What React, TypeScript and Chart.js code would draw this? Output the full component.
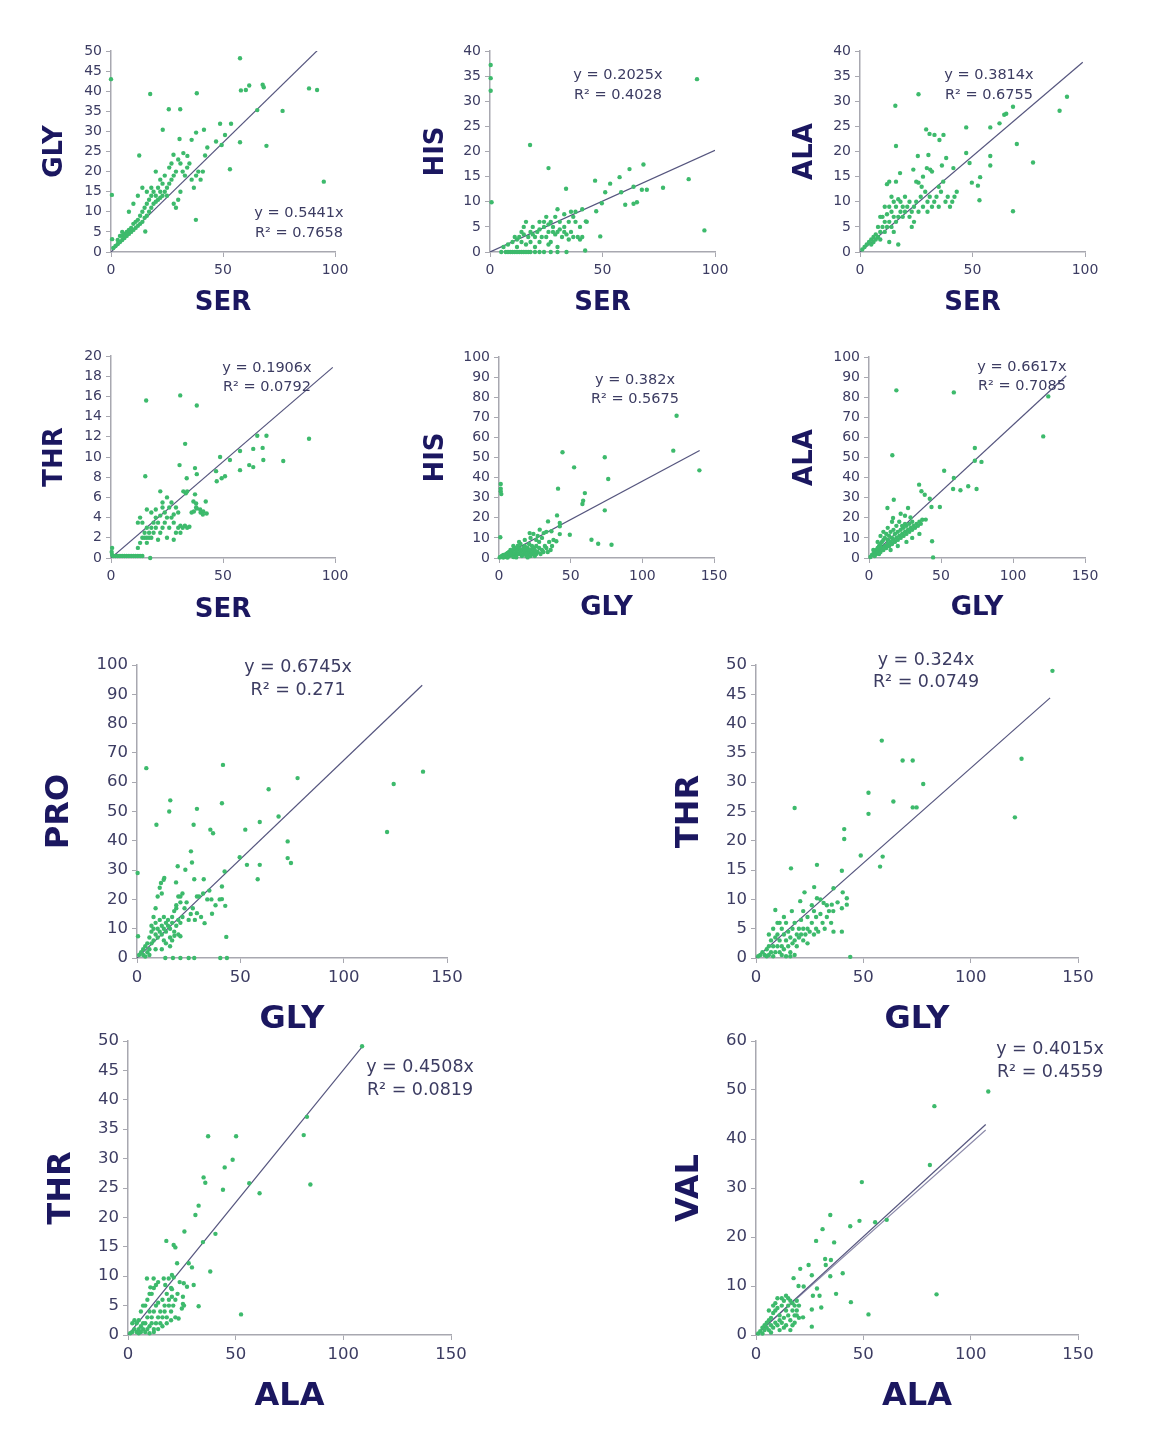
import React, { useEffect, useRef } from "react";
import { Chart, registerables } from "chart.js";
Chart.register(...registerables);

type Pt = [number, number];

// ---------- DATA ----------
const glyVsSer: Pt[] = [
  [0, 43], [0.4, 14.2], [0.5, 3.2], [57.6, 48.2], [17.5, 39.3], [38.3, 39.5], [58, 40.2], [60.2, 40.3], [61.7, 41.4],
  [67.7, 41.6], [68.2, 41], [88.4, 40.7], [92, 40.3], [25.8, 35.5], [30.9, 35.5], [65.3, 35.3], [76.6, 35.1],
  [23.1, 30.4], [41.5, 30.4], [48.7, 31.9], [53.6, 31.9], [30.6, 28.1], [36, 27.9], [38, 29.7], [57.6, 27.3],
  [69.4, 26.4], [12.6, 24], [27.9, 24.2], [32.3, 24.6], [34.1, 23.9], [46.9, 27.5], [49.4, 26.6], [50.9, 29.1],
  [53.1, 20.6], [95, 17.5], [37.9, 8], [15.3, 5.1],
  [1, 1], [2, 1.5], [3, 2], [4, 2.5], [5, 3], [5, 4], [6, 3.5], [6, 4.5], [7, 4], [7, 5], [8, 4.5], [8, 5.5], [9, 5],
  [9, 6], [10, 5.5], [10, 7], [11, 6], [11, 7.5], [12, 6.5], [12, 8], [13, 7], [13, 9], [14, 7.5], [14, 10], [15, 8.5],
  [15, 11], [16, 9], [16, 12], [17, 10], [17, 13], [18, 11], [18, 14], [19, 12], [19, 15], [20, 12.5], [20, 14],
  [21, 13], [21, 16], [22, 13.5], [22, 15], [23, 14], [23, 17], [24, 15], [24, 19], [25, 14], [25, 16], [26, 17],
  [26, 21], [27, 18], [27, 22], [28, 12], [28, 19], [29, 11], [29, 20], [30, 13], [30, 23], [31, 15], [31, 22],
  [32, 20], [33, 19], [34, 21], [35, 22], [36, 18], [37, 16], [38, 19], [39, 20], [40, 18], [41, 20], [42, 24],
  [43, 26], [10, 12], [8, 10], [12, 14], [14, 16], [18, 16], [5, 5], [3, 3], [4, 4], [20, 20], [22, 18], [16, 15],
];

const hisVsSer: Pt[] = [
  [0.3, 37.2], [0.3, 34.6], [0.3, 32.1], [0.7, 9.9], [17.8, 21.3], [26, 16.7], [92, 34.4], [95.3, 4.3], [88.3, 14.5],
  [76.9, 12.8], [68.2, 17.4], [62, 16.5], [53.4, 13.6], [57.6, 14.9], [46.7, 14.2], [33.8, 12.6], [58.3, 11.9],
  [60.1, 9.4], [63.8, 9.6], [65.3, 9.9], [67.5, 12.4], [69.7, 12.4], [63.8, 13], [51.2, 11.9], [49.7, 9.7],
  [47.2, 8.1], [49, 3.1], [42.6, 6.1], [42.3, 0.3],
  [5, 0], [7, 0], [8, 0], [9, 0], [10, 0], [11, 0], [12, 0], [13, 0], [14, 0], [15, 0], [16, 0], [17, 0], [18, 0],
  [20, 0], [22, 0], [24, 0], [27, 0], [30, 0], [6, 1], [8, 1.5], [10, 2], [11, 3], [12, 2.5], [13, 3], [14, 2],
  [15, 3.5], [15, 5], [16, 6], [17, 3], [18, 4], [18, 2], [19, 5], [20, 1], [20, 3], [21, 4], [22, 2], [22, 6],
  [23, 3], [24, 5], [24, 6], [25, 3], [25, 7], [26, 4], [26, 5.5], [27, 2], [27, 6], [28, 4], [28, 5], [29, 3.5],
  [29, 7], [30, 4], [30, 8.5], [31, 4.5], [31, 6], [32, 3], [33, 4], [33, 5], [34, 3.5], [35, 2.5], [35, 6],
  [36, 4], [37, 7], [37, 3], [38, 6], [38, 8], [39, 3], [40, 2.5], [40, 5], [41, 3], [41, 8.5], [43, 6], [36, 8],
  [30, 1], [34, 0], [22, 4.5], [19, 3.5], [16, 1.5], [14, 4], [12, 1], [26, 1.5], [33, 7.5],
];

const alaVsSer: Pt[] = [
  [15.7, 29.1], [26, 31.4], [16, 21.1], [92, 30.9], [88.7, 28.1], [68, 28.9], [64.1, 27.3], [65, 27.5], [62, 25.6],
  [57.9, 24.8], [47.2, 24.8], [69.7, 21.5], [57.9, 19.1], [57.9, 17.2], [76.9, 17.8], [68, 8.1], [53.1, 10.3],
  [52.4, 13.2], [53.4, 14.9], [49.7, 13.8], [47.2, 19.7], [48.7, 17.7], [29.4, 24.4], [30.9, 23.5], [33.1, 23.3],
  [35.3, 22.3], [37.1, 23.3], [25.7, 19.1], [30.4, 19.3], [38.3, 18.7], [36.4, 17.2], [41.5, 16.7], [29.7, 16.7],
  [31.2, 16.4], [23.7, 16.4], [17.8, 15.7], [26, 13.8], [27.4, 13],
  [1, 0.5], [2, 1], [3, 1.5], [4, 2], [5, 1.5], [5, 2.5], [6, 2], [6, 3], [7, 2.5], [7, 3.5], [8, 3], [8, 5], [9, 2.5],
  [9, 4], [10, 5], [10, 7], [11, 4], [11, 6], [12, 5], [12, 7.5], [13, 6], [13, 9], [14, 5], [14, 8], [15, 7],
  [15, 10], [16, 6], [16, 9], [17, 7], [17, 10.5], [18, 8], [18, 10], [19, 7], [19, 9], [20, 8], [20, 11], [21, 9],
  [22, 7], [22, 10], [23, 8], [23, 5], [24, 9], [24, 6], [25, 10], [26, 8], [27, 11], [28, 9], [29, 12], [30, 8],
  [30, 10], [31, 11], [32, 9], [33, 10], [34, 11], [35, 9], [36, 12], [37, 14], [38, 10], [39, 11], [40, 9],
  [41, 10], [42, 11], [43, 12], [12, 13.5], [13, 14], [16, 14], [14, 11], [9, 7], [11, 9], [17, 1.5], [13, 2],
  [15, 4], [25, 14], [28, 15], [32, 16], [35, 13],
];

const thrVsSer: Pt[] = [
  [15.7, 15.6], [30.9, 16.1], [38.3, 15.1], [15.3, 8.1], [33.1, 11.3], [88.4, 11.8], [65.3, 12.1], [69.4, 12.1],
  [67.7, 10.9], [63.5, 10.8], [57.6, 10.6], [68, 9.7], [76.9, 9.6], [48.7, 10], [53.1, 9.7], [57.6, 8.7],
  [61.7, 9.2], [63.5, 9], [46.9, 8.6], [47.2, 7.6], [49.4, 7.9], [50.9, 8.1], [30.6, 9.2], [37.5, 8.9], [38.3, 8.3],
  [33.8, 7.9], [22, 6.6], [32.3, 6.6], [33.4, 6.4], [37.5, 6.3], [36.8, 5.6], [42.3, 5.6], [38.3, 4.9], [39.8, 4.8],
  [41.2, 4.6], [42.7, 4.4], [17.5, 0],
  [0.5, 0.3], [1, 0.2], [2, 0.2], [3, 0.2], [4, 0.2], [5, 0.2], [6, 0.2], [7, 0.2], [8, 0.2], [9, 0.2], [10, 0.2],
  [11, 0.2], [12, 0.2], [13, 0.2], [14, 0.2], [0.3, 0.6], [0.5, 1],
  [12, 1], [13, 1.5], [14, 2], [14, 3.5], [15, 2], [15, 2.5], [16, 1.5], [16, 2], [16, 3], [17, 2], [17, 2.5], [18, 2],
  [18, 3], [18, 4.5], [19, 2.5], [19, 3.5], [20, 3], [20, 4], [21, 1.8], [21, 3.5], [22, 2.5], [22, 4.2], [23, 3],
  [23, 5], [24, 3.5], [24, 4.5], [25, 2], [25, 4], [26, 3], [26, 5], [27, 4], [27, 5.5], [28, 1.8], [28, 3.5],
  [29, 2.5], [29, 5], [30, 3], [30, 4.5], [31, 3.2], [32, 3], [33, 3.2], [34, 3], [35, 3.1], [36, 4.5], [37, 4.6],
  [38, 5], [12, 3.5], [13, 4], [16, 4.8], [20, 4.8], [23, 5.5], [25, 6], [28, 4.3], [31, 2.5], [34, 6.6], [38, 5.4],
  [40, 4.5], [41, 4.3],
];

const hisVsGly: Pt[] = [
  [123.9, 70.8], [121.6, 53.4], [139.8, 43.6], [44.3, 52.6], [52.4, 45.1], [73.8, 50.1], [76.2, 39.3], [73.8, 23.7],
  [59.9, 32.3], [58.7, 28.5], [58.2, 26.9], [41.2, 34.5], [40.5, 21.2], [49.4, 11.6], [64.5, 9.1], [69.2, 7.1],
  [78.5, 6.6], [1.2, 36.8], [1.2, 34.5], [1.2, 33.2], [1.6, 31.8], [0.9, 10.3], [42.4, 17.4], [42.4, 15.8],
  [42.4, 11.9], [40, 8.3], [36.6, 13.3], [34.2, 18.2], [31.2, 12.4], [28.4, 14.1], [21.4, 12.4],
  [1, 0.5], [2, 1], [3, 1.5], [4, 1], [5, 2], [5, 0.5], [6, 2.5], [7, 1], [7, 3], [8, 2], [8, 4], [9, 1.5], [9, 3],
  [10, 0.5], [10, 4], [11, 2], [11, 5], [12, 1], [12, 3], [13, 4], [13, 6], [14, 2], [14, 5], [15, 3], [15, 7],
  [16, 1], [16, 4], [17, 5], [17, 2], [18, 3], [18, 6], [19, 1], [19, 4], [20, 2], [20, 5], [21, 3], [21, 7], [22, 1],
  [22, 4], [23, 6], [23, 2], [24, 3], [24, 5], [25, 1], [25, 4], [26, 2], [26, 6], [27, 3], [28, 5], [28, 8], [29, 2],
  [30, 4], [30, 10], [31, 3], [32, 6], [33, 5], [34, 3], [35, 8], [36, 4], [37, 6], [38, 9], [26, 9], [22, 10],
  [18, 9], [14, 8], [10, 6], [0.5, 0.3], [3, 0.2], [6, 0.2], [12, 0.3], [20, 0.3], [27, 11], [24, 12], [33, 13],
];

const alaVsGly: Pt[] = [
  [19, 83.4], [58.9, 82.4], [124.5, 80.4], [121, 60.5], [16.2, 51.1], [73.5, 54.7], [73.5, 48.4], [78.1, 47.8],
  [52.2, 43.4], [58.9, 39.8], [58.4, 34.3], [63.5, 33.7], [68.9, 35.7], [74.7, 34.3], [34.8, 36.5], [42.2, 29.5],
  [43.4, 25.4], [49.2, 25.4], [43.8, 8.3], [44.5, 0.3], [17.2, 29], [12.8, 24.9], [16.7, 19.9], [27.1, 24.9],
  [28.8, 20.2], [36.4, 33.2], [38.7, 31.5], [39.4, 19.1],
  [1, 0.5], [2, 1.5], [3, 2], [4, 3], [5, 2], [5, 4], [6, 3], [6, 5], [7, 4], [7, 6], [8, 3], [8, 7], [9, 5], [9, 8],
  [10, 4], [10, 9], [11, 6], [11, 10], [12, 5], [12, 12], [13, 7], [13, 9], [14, 6], [14, 11], [15, 8], [15, 13],
  [16, 7], [16, 10], [17, 9], [17, 14], [18, 8], [18, 12], [19, 10], [19, 16], [20, 9], [20, 13], [21, 11], [21, 18],
  [22, 10], [22, 14], [23, 12], [23, 16], [24, 11], [24, 15], [25, 13], [25, 17], [26, 12], [26, 16], [27, 14],
  [28, 13], [28, 17], [29, 15], [30, 14], [30, 18], [31, 16], [32, 15], [33, 17], [34, 16], [35, 18], [36, 17],
  [37, 19], [8, 11], [10, 13], [13, 15], [6, 8], [16, 18], [22, 22], [25, 21], [3, 4], [4, 1], [7, 2], [20, 6],
  [15, 4], [26, 8], [30, 10], [35, 12],
];

const proVsGly: Pt[] = [
  [4.5, 64.8], [41.6, 65.9], [138.4, 63.6], [124.2, 59.4], [121, 43], [77.7, 61.4], [63.7, 57.6], [68.5, 48.3],
  [59.4, 46.4], [52.4, 43.8], [72.9, 39.8], [72.9, 34.1], [74.5, 32.4], [49.7, 34.4], [53.2, 31.8], [59.4, 31.8],
  [58.4, 26.9], [41.1, 52.8], [29, 50.9], [16.1, 53.8], [15.6, 50], [9.4, 45.5], [27.4, 45.5], [35.5, 43.8],
  [36.8, 42.6], [26.1, 36.4], [42.4, 29.5], [0.3, 29], [0.5, 7.4], [43.2, 7.2], [41.1, 24.4], [41.1, 20.1],
  [42.7, 17.8], [36.3, 15.1], [29, 15.3], [32.7, 11.9], [32.3, 26.9], [27.7, 26.9], [23.4, 30.1], [19.7, 31.3],
  [26.6, 32.6], [18.9, 25.8], [12.9, 26.7], [11.6, 25.6], [13.2, 27.3], [18.1, 7.6], [21, 7.4],
  [13.7, 0], [17.4, 0], [21, 0], [25, 0], [27.7, 0], [40.3, 0], [43.5, 0],
  [1, 1], [2, 2], [3, 1], [3, 3], [4, 4], [5, 2], [5, 5], [6, 3], [6, 7], [7, 5], [7, 9], [8, 6], [8, 10], [9, 8],
  [9, 12], [10, 7], [10, 10], [11, 9], [11, 13], [12, 8], [12, 11], [13, 10], [13, 14], [14, 9], [14, 12], [15, 11],
  [15, 13], [16, 10], [16, 7], [17, 12], [17, 14], [18, 9], [18, 16], [19, 11], [19, 18], [20, 13], [20, 21],
  [21, 12], [21, 19], [22, 14], [22, 22], [23, 17], [24, 19], [25, 13], [26, 15], [27, 17], [28, 13], [29, 21],
  [30, 21], [31, 14], [32, 22], [34, 20], [35, 23], [36, 20], [38, 18], [40, 20], [8, 14], [9, 17], [10, 21],
  [11, 24], [12, 22], [7, 11], [14, 5], [16, 4], [17, 6], [13, 6], [20, 8], [6, 1], [9, 3], [4, 0.5], [12, 3],
  [19, 17], [21, 21],
];

const thrVsGly: Pt[] = [
  [138.1, 49], [58.6, 37.1], [68.3, 33.7], [73, 33.7], [123.7, 34], [77.9, 29.7], [52.4, 28.2], [52.4, 24.6],
  [64, 26.7], [73, 25.7], [74.8, 25.7], [120.6, 24], [18, 25.6], [41.1, 22], [41.1, 20.3], [48.8, 17.5],
  [59, 17.3], [57.8, 15.6], [40, 14.9], [28.4, 15.9], [16.3, 15.3], [36.1, 11.9], [27.1, 12.1], [22.6, 11.2],
  [40.4, 11.2], [42.3, 10.2], [42.3, 9.1], [36.1, 4.5], [40, 4.5], [43.9, 0.2], [9, 8.2], [16.7, 8], [20.6, 9.7],
  [28.4, 10.2], [31.5, 9.4], [35.3, 9.1],
  [1, 0.3], [2, 0.5], [3, 1], [4, 0.5], [5, 1.5], [5, 0.3], [6, 2], [6, 0.5], [7, 1], [7, 3], [8, 2], [8, 0.3], [9, 1],
  [9, 3.5], [10, 2], [10, 4], [11, 1], [11, 3], [12, 2], [12, 5], [13, 1.5], [13, 4], [14, 3], [14, 6], [15, 2],
  [15, 4.5], [16, 1], [16, 3.5], [17, 2.5], [17, 5], [18, 3], [18, 6], [19, 2], [19, 4], [20, 3.5], [20, 5], [21, 4],
  [21, 6.5], [22, 3], [22, 5], [23, 4], [24, 2.5], [24, 5], [25, 4.5], [26, 6], [27, 4], [27, 8], [28, 5], [28, 7],
  [29, 4.5], [30, 7.5], [31, 6], [32, 5], [33, 7], [34, 8], [35, 6], [12, 0.5], [14, 0.3], [16, 0.3], [18, 0.5],
  [10, 6], [11, 6], [13, 7], [6, 4], [8, 5], [22, 8], [24, 7], [26, 9], [30, 10], [33, 9], [36, 8], [38, 9.5],
  [40, 8.5],
];

const thrVsAla: Pt[] = [
  [108.7, 49.1], [83.1, 37.1], [81.6, 34], [84.7, 25.6], [37.2, 33.8], [50.2, 33.8], [48.6, 29.8], [44.9, 28.5],
  [35.1, 26.8], [35.9, 25.9], [44.1, 24.7], [56.3, 25.8], [61.1, 24.1], [32.8, 22], [31.3, 20.4], [26.2, 17.6],
  [40.6, 17.2], [34.8, 15.8], [17.8, 16], [21.2, 15.3], [22, 14.9], [38.2, 10.8], [52.5, 3.5], [32.8, 4.9],
  [23.5, 2.8], [22.8, 12.2], [28.2, 12.2], [29.7, 11.5], [30.5, 8.5], [25.9, 8.8], [27.4, 8.2], [25.5, 6.5],
  [25.5, 5.3], [20.4, 7.8], [20.4, 6.5], [8.8, 9.6], [11.9, 9.6], [10.4, 8.1], [16.6, 9.6], [18.9, 9.6],
  [21.2, 9.8], [17.3, 8.5], [20.4, 10.2],
  [1, 0.3], [2, 0.5], [3, 1], [4, 0.5], [4, 2], [5, 1], [5, 2.5], [6, 0.5], [6, 1.5], [7, 1], [7, 2], [8, 0.5], [8, 2],
  [9, 1], [9, 3], [10, 1.5], [10, 4], [11, 2], [11, 3], [12, 1], [12, 4], [13, 2], [13, 5], [14, 3], [14, 5.5],
  [15, 2], [15, 4], [16, 3], [16, 6], [17, 4], [17, 5], [18, 3], [18, 7], [19, 5], [19, 6], [20, 4], [20, 8], [21, 5],
  [22, 6], [23, 7], [24, 9], [8, 5], [9, 6], [10, 7], [11, 7], [12, 8], [13, 8.5], [14, 9], [3, 2.5], [2, 2], [6, 4],
  [7, 5], [5, 0.3], [10, 0.3], [12, 0.5], [14, 1], [16, 1.5], [18, 2], [20, 2.5], [22, 3], [25, 4.5], [26, 5],
];

const valVsAla: Pt[] = [
  [108.2, 49.7], [83.1, 46.7], [81, 34.7], [84.1, 8.3], [49.3, 31.2], [34.6, 24.5], [43.9, 22.2], [48.2, 23.3],
  [55.5, 23], [60.9, 23.5], [31, 21.6], [28, 19.2], [36.4, 18.9], [32.2, 15.5], [34.9, 15.3], [32.5, 14.3],
  [34.6, 12], [40.4, 12.6], [37.3, 8.4], [44.2, 6.7], [52.4, 4.2], [30.4, 5.6], [26, 5.2], [26, 1.7], [24.5, 14.3],
  [20.6, 13.5], [26, 12.2], [17.5, 11.6], [19.8, 10], [22.2, 9.9], [28.4, 9.5], [26.5, 8], [29.6, 8], [21.9, 3.6],
  [1, 0.3], [2, 0.8], [3, 1.5], [3, 0.3], [4, 1], [4, 2], [5, 1.5], [5, 2.5], [6, 1], [6, 3], [7, 2], [7, 3.5],
  [8, 1.5], [8, 4.5], [9, 2.5], [9, 5], [10, 2], [10, 5.5], [11, 3], [11, 4], [12, 2.5], [12, 6], [13, 3.5], [13, 7],
  [14, 2], [14, 5], [15, 4], [15, 6], [16, 3], [16, 7], [17, 5], [17, 2], [18, 6], [18, 4], [19, 5], [19, 7], [20, 6],
  [10, 7.5], [12, 7.5], [9, 6.5], [14, 8], [11, 1], [13, 1.5], [16, 1], [18, 2.5], [20, 3.5], [6, 5], [8, 6],
  [15, 7.5], [17, 6.5], [19, 4], [7, 0.5],
];

// trendline slopes (from the printed equations) and where each trendline ends on x
const trendSlopes = [0.5441, 0.2025, 0.3814, 0.1906, 0.382, 0.6617, 0.6745, 0.324, 0.4508, 0.4015];
const trendEndX = [95, 100, 99, 99, 140, 137, 138, 137, 109, 107];
const valSecondSlope = 0.391;
const eqLabels = ["y = 0.5441x", "y = 0.2025x", "y = 0.3814x", "y = 0.1906x", "y = 0.382x", "y = 0.6617x", "y = 0.6745x", "y = 0.324x", "y = 0.4508x", "y = 0.4015x"];
const r2Labels = ["R² = 0.7658", "R² = 0.4028", "R² = 0.6755", "R² = 0.0792", "R² = 0.5675", "R² = 0.7085", "R² = 0.271", "R² = 0.0749", "R² = 0.0819", "R² = 0.4559"];
const xNames = ["SER", "SER", "SER", "SER", "GLY", "GLY", "GLY", "GLY", "ALA", "ALA"];
const yNames = ["GLY", "HIS", "ALA", "THR", "HIS", "ALA", "PRO", "THR", "THR", "VAL"];
const xMaxes = [100, 100, 100, 100, 150, 150, 150, 150, 150, 150];
const yMaxes = [50, 40, 40, 20, 100, 100, 100, 50, 50, 60];
const yStepsList = [5, 5, 5, 2, 10, 10, 10, 5, 5, 10];
const pointSets = [glyVsSer, hisVsSer, alaVsSer, thrVsSer, hisVsGly, alaVsGly, proVsGly, thrVsGly, thrVsAla, valVsAla];

// ---------- LAYOUT ----------
type Layout = {
  left: number; top: number; w: number; h: number; big: boolean;
  ytDx: number; xtDy: number; eqDx: number; eqDy1: number; eqDy2: number;
};
const layouts: Layout[] = [
  { left: 111, top: 51, w: 224, h: 201, big: false, ytDx: 56, xtDy: 51, eqDx: 188, eqDy1: 162, eqDy2: 182 },
  { left: 490, top: 51, w: 225, h: 201, big: false, ytDx: 54, xtDy: 51, eqDx: 128, eqDy1: 24, eqDy2: 44 },
  { left: 860, top: 51, w: 225, h: 201, big: false, ytDx: 55, xtDy: 51, eqDx: 129, eqDy1: 24, eqDy2: 44 },
  { left: 111, top: 356, w: 224, h: 202, big: false, ytDx: 56, xtDy: 52, eqDx: 156, eqDy1: 12, eqDy2: 31 },
  { left: 499, top: 357, w: 215, h: 201, big: false, ytDx: 63, xtDy: 50, eqDx: 136, eqDy1: 23, eqDy2: 42 },
  { left: 869, top: 357, w: 216, h: 201, big: false, ytDx: 64, xtDy: 50, eqDx: 153, eqDy1: 10, eqDy2: 29 },
  { left: 137, top: 665, w: 310, h: 293, big: true, ytDx: 77, xtDy: 62, eqDx: 161, eqDy1: 2, eqDy2: 25 },
  { left: 756, top: 665, w: 322, h: 293, big: true, ytDx: 66, xtDy: 62, eqDx: 170, eqDy1: -5, eqDy2: 17 },
  { left: 128, top: 1041, w: 323, h: 294, big: true, ytDx: 66, xtDy: 62, eqDx: 292, eqDy1: 26, eqDy2: 49 },
  { left: 756, top: 1041, w: 322, h: 294, big: true, ytDx: 66, xtDy: 62, eqDx: 294, eqDy1: 8, eqDy2: 31 },
];

const M_LEFT = 100, M_TOP = 25, M_RIGHT = 40, M_BOTTOM = 85;
const FONT = "'DejaVu Sans', Verdana, sans-serif";
const TICK_COLOR = "#3c3c62";
const TITLE_COLOR = "#1b1760";
const AXIS_COLOR = "#a8a8b0";
const POINT_COLOR = "#3dba6c";
const LINE_COLOR = "#55557e";

function Panel({ idx }: { idx: number }) {
  const ref = useRef<HTMLCanvasElement | null>(null);
  const L = layouts[idx];
  const cw = L.w + M_LEFT + M_RIGHT;
  const ch = L.h + M_TOP + M_BOTTOM;

  useEffect(() => {
    if (!ref.current) return;
    const tickSize = L.big ? 16.5 : 14;
    const titleSize = L.big ? 32 : 26;
    const eqSize = L.big ? 17.5 : 14.5;
    const slope = trendSlopes[idx];
    const endX = trendEndX[idx];
    const datasets: any[] = [
      {
        type: "scatter",
        data: pointSets[idx].map(([x, y]) => ({ x, y })),
        pointRadius: 2.2,
        pointBorderWidth: 0,
        backgroundColor: POINT_COLOR,
        clip: 6,
      },
      {
        type: "line",
        data: [{ x: 0, y: 0 }, { x: endX, y: slope * endX }],
        borderColor: LINE_COLOR,
        borderWidth: 1.2,
        pointRadius: 0,
        fill: false,
        clip: 0,
      },
    ];
    if (idx === 9) {
      datasets.push({
        type: "line",
        data: [{ x: 0, y: 0 }, { x: endX, y: valSecondSlope * endX }],
        borderColor: "#8a88a8",
        borderWidth: 1.1,
        pointRadius: 0,
        fill: false,
        clip: 0,
      });
    }

    const labelPlugin = {
      id: "labels" + idx,
      afterDraw(chart: any) {
        const ca = chart.chartArea;
        const ctx = chart.ctx;
        ctx.save();
        ctx.fillStyle = TITLE_COLOR;
        ctx.font = `bold ${titleSize}px ${FONT}`;
        ctx.textAlign = "center";
        ctx.textBaseline = "middle";
        ctx.fillText(xNames[idx], (ca.left + ca.right) / 2, ca.bottom + L.xtDy);
        ctx.save();
        ctx.translate(ca.left - L.ytDx, (ca.top + ca.bottom) / 2);
        ctx.rotate(-Math.PI / 2);
        ctx.fillText(yNames[idx], 0, 0);
        ctx.restore();
        ctx.fillStyle = TICK_COLOR;
        ctx.font = `${eqSize}px ${FONT}`;
        ctx.fillText(eqLabels[idx], ca.left + L.eqDx, ca.top + L.eqDy1);
        ctx.fillText(r2Labels[idx], ca.left + L.eqDx, ca.top + L.eqDy2);
        ctx.restore();
      },
    };

    const chart = new Chart(ref.current, {
      type: "scatter",
      data: { datasets },
      plugins: [labelPlugin],
      options: {
        responsive: false,
        animation: false,
        devicePixelRatio: 1,
        layout: { padding: { top: M_TOP, right: M_RIGHT, left: 0, bottom: 0 } },
        plugins: { legend: { display: false }, tooltip: { enabled: false } },
        scales: {
          x: {
            type: "linear",
            min: 0,
            max: xMaxes[idx],
            afterFit: (s: any) => { s.height = M_BOTTOM; },
            border: { display: true, color: AXIS_COLOR, width: 1.5 },
            grid: { display: true, drawOnChartArea: false, drawTicks: true, tickLength: 5, color: AXIS_COLOR },
            ticks: { stepSize: 50, padding: 5, color: TICK_COLOR, font: { family: FONT, size: tickSize }, maxRotation: 0 },
          },
          y: {
            type: "linear",
            min: 0,
            max: yMaxes[idx],
            afterFit: (s: any) => { s.width = M_LEFT; },
            border: { display: true, color: AXIS_COLOR, width: 1.5 },
            grid: { display: true, drawOnChartArea: false, drawTicks: true, tickLength: 5, color: AXIS_COLOR },
            ticks: { stepSize: yStepsList[idx], padding: 4, color: TICK_COLOR, font: { family: FONT, size: tickSize } },
          },
        },
      } as any,
    });
    return () => chart.destroy();
  }, [idx]);

  return (
    <canvas
      ref={ref}
      width={cw}
      height={ch}
      style={{ position: "absolute", left: L.left - M_LEFT, top: L.top - M_TOP, width: cw, height: ch }}
    />
  );
}

export default function App() {
  return (
    <div style={{ position: "absolute", left: 0, top: 0, width: 1164, height: 1439, background: "#ffffff", overflow: "hidden" }}>
      {layouts.map((_, i) => (
        <Panel key={i} idx={i} />
      ))}
    </div>
  );
}
